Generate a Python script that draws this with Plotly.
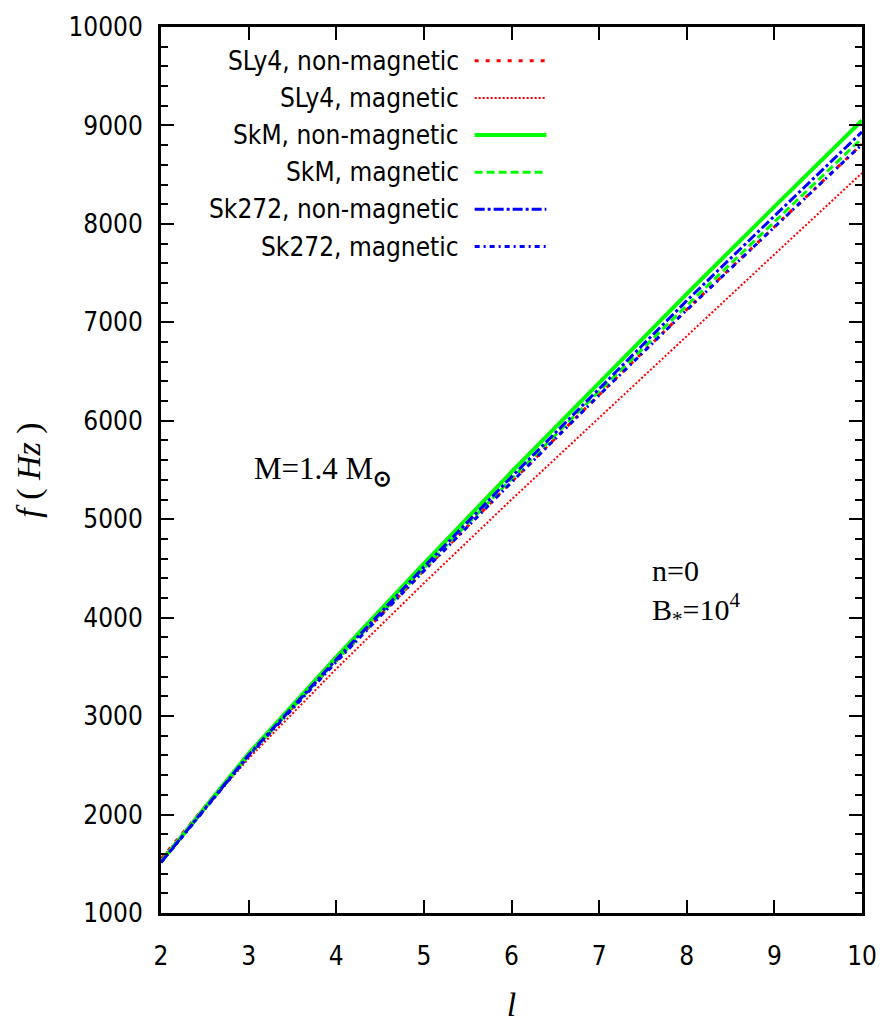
import plotly.graph_objects as go

# Harmonic degree l
l_values = [2, 3, 4, 5, 6, 7, 8, 9, 10]

# Mode frequencies f (Hz) for each equation of state, with and without field
sly4_nonmag = [1550, 2610, 3560, 4480, 5380, 6265, 7130, 7975, 8810]
sly4_mag = [1548, 2570, 3480, 4350, 5200, 6035, 6860, 7690, 8517]
skm_nonmag = [1520, 2620, 3600, 4550, 5480, 6390, 7290, 8175, 9052]
skm_mag = [1518, 2600, 3565, 4500, 5410, 6300, 7170, 8025, 8870]
sk272_nonmag = [1515, 2605, 3575, 4515, 5430, 6330, 7220, 8080, 8934]
sk272_mag = [1512, 2595, 3550, 4475, 5375, 6260, 7125, 7970, 8808]

series_names = [
    "SLy4, non-magnetic",
    "SLy4, magnetic",
    "SkM, non-magnetic",
    "SkM, magnetic",
    "Sk272, non-magnetic",
    "Sk272, magnetic",
]
series_values = [sly4_nonmag, sly4_mag, skm_nonmag, skm_mag, sk272_nonmag, sk272_mag]

colors = ["#ff0000", "#ff0000", "#00ff00", "#00ff00", "#0000ff", "#0000ff"]
dashes = ["4px,7px", "2px,2px", "solid", "8px,4px", "10px,3px,3px,3px", "5px,4px,2px,4px"]
widths = [3, 2, 4, 3, 3, 3]

sans = "Liberation Sans Narrow, Arial Narrow, DejaVu Sans Condensed, sans-serif"
serif = "Liberation Serif, Times New Roman, serif"

fig = go.Figure()
for name, vals, c, d, w in zip(series_names, series_values, colors, dashes, widths):
    fig.add_trace(go.Scatter(
        x=l_values, y=vals, mode="lines", name=name, showlegend=False,
        line=dict(color=c, dash=d, width=w),
    ))

# Key: right-aligned labels with line samples to their right
plot_left, plot_right, plot_top, plot_bottom = 161, 865, 21, 913
pw, ph = plot_right - plot_left, plot_bottom - plot_top
def px_x(p):
    return (p - plot_left) / pw
def px_y(p):
    return (plot_bottom - p) / ph

row_y0, row_step = 55, 37.4
for i, (name, c, d, w) in enumerate(zip(series_names, colors, dashes, widths)):
    yy = px_y(row_y0 + i * row_step)
    fig.add_annotation(
        x=px_x(462), y=yy, xref="paper", yref="paper", text=name,
        showarrow=False, xanchor="right", yanchor="middle",
        font=dict(family=sans, size=26, color="black"),
    )
    fig.add_shape(
        type="line", xref="paper", yref="paper",
        x0=px_x(476), x1=px_x(548), y0=yy, y1=yy,
        line=dict(color=c, dash=d, width=w),
    )

fig.add_annotation(
    x=px_x(252), y=px_y(468), xref="paper", yref="paper",
    text="M=1.4 M<sub><b>⊙</b></sub>", showarrow=False, xanchor="left", yanchor="middle",
    font=dict(family=serif, size=31, color="black"),
)
fig.add_annotation(
    x=px_x(652), y=px_y(590), xref="paper", yref="paper", align="left",
    text="n=0<br>B<sub>*</sub>=10<sup>4</sup>", showarrow=False,
    xanchor="left", yanchor="middle",
    font=dict(family=serif, size=30, color="black"),
)

axis_common = dict(
    showline=True, linecolor="black", linewidth=3, mirror="ticks",
    ticks="inside", tickcolor="black", tickwidth=2, ticklen=13,
    showgrid=False, zeroline=False, tickformat="d",
    tickfont=dict(family=sans, size=26, color="black"),
)

fig.update_xaxes(
    range=[2, 10], dtick=1, tick0=2, ticklabelstandoff=18,
    title=dict(text="<i>l</i>", font=dict(family=serif, size=34, color="black"), standoff=22),
    **axis_common,
)
fig.update_yaxes(
    range=[1000, 10000], dtick=1000, tick0=1000, ticklabelstandoff=10,
    minor=dict(ticks="inside", dtick=200, ticklen=7, tickwidth=2, tickcolor="black", showgrid=False),
    title=dict(text="<i>f</i> ( <i>Hz</i> )", font=dict(family=serif, size=34, color="black"), standoff=18),
    **axis_common,
)

fig.update_layout(
    width=889, height=1030,
    margin=dict(l=plot_left, r=889 - plot_right, t=plot_top, b=1030 - plot_bottom),
    paper_bgcolor="white", plot_bgcolor="white",
    showlegend=False,
)

fig.write_html("out.html")
